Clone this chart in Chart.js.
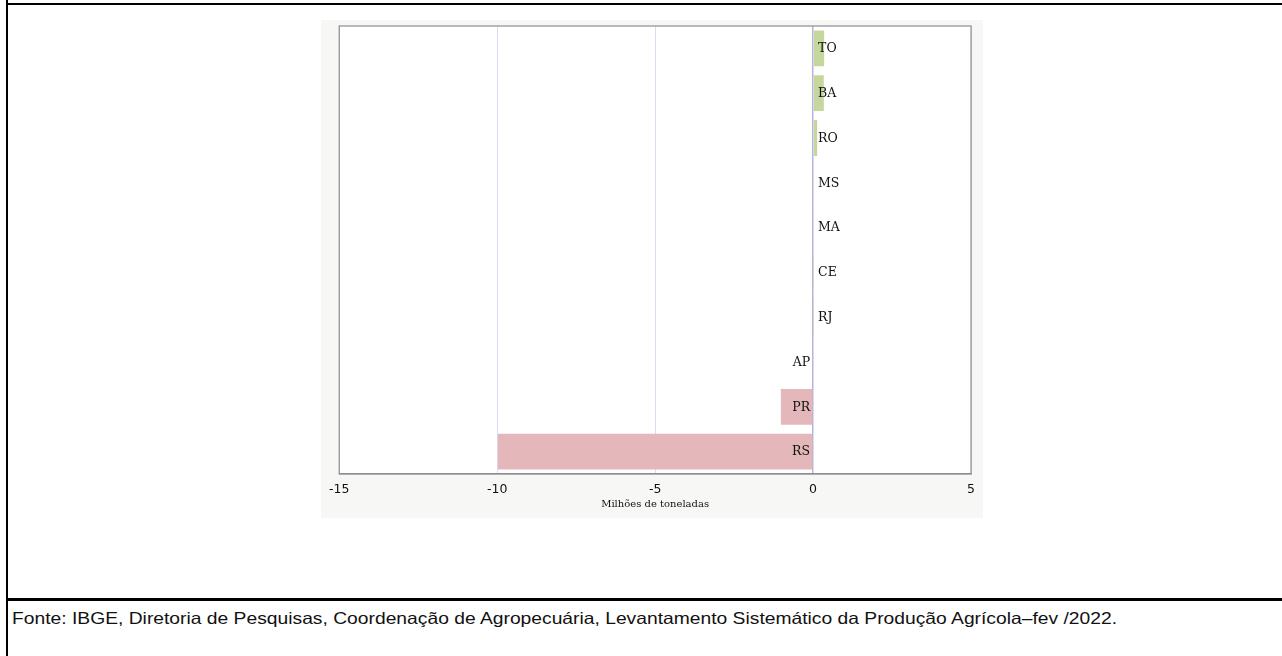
<!DOCTYPE html>
<html>
<head>
<meta charset="utf-8">
<script src="https://cdn.jsdelivr.net/npm/chart.js@4/dist/chart.umd.min.js"></script>
<style>
  html, body { margin: 0; padding: 0; background: #ffffff; }
  body { width: 1282px; height: 656px; position: relative; overflow: hidden; }
  .hline { position: absolute; background: #000; }
  .vline { position: absolute; background: #000; }
  #chartBox { position: absolute; left: 321px; top: 20px; width: 662px; height: 498px; background: #f7f7f5; }
  #fonte { position: absolute; left: 12px; top: 610px; font-family: "Liberation Sans", Arial, sans-serif; font-size: 16.5px; line-height: 17px; color: #111; white-space: nowrap; transform-origin: 0 0; }
</style>
</head>
<body>
<div class="vline" style="left:6px; top:0; width:2px; height:656px;"></div>
<div class="hline" style="left:6px; top:3px; width:1276px; height:2px;"></div>
<div class="hline" style="left:6px; top:598px; width:1276px; height:2.5px;"></div>
<div id="chartBox"><canvas id="c"></canvas></div>
<div id="fonte">Fonte: IBGE, Diretoria de Pesquisas, Coordenação de Agropecuária, Levantamento Sistemático da Produção Agrícola–fev /2022.</div>
<script>
// ---- data ----
const states = ["TO", "BA", "RO", "MS", "MA", "CE", "RJ", "AP", "PR", "RS"];
const variation = [0.35, 0.34, 0.13, 0.03, 0.02, 0.01, 0.01, -0.02, -1.02, -9.98];
const xTicks = [-15, -10, -5, 0, 5];
const axisTitle = "Milhões de toneladas";

const posColor = "#c6d79e";
const negColor = "#e4b8ba";

const plotFrame = {
  id: "plotFrame",
  beforeDraw(chart) {
    const a = chart.chartArea, ctx = chart.ctx;
    ctx.save();
    ctx.fillStyle = "#ffffff";
    ctx.fillRect(a.left, a.top, a.right - a.left, a.bottom - a.top);
    ctx.restore();
  },
  afterDraw(chart) {
    const a = chart.chartArea, ctx = chart.ctx;
    ctx.save();
    ctx.strokeStyle = "#8e8e8e";
    ctx.lineWidth = 1.2;
    ctx.strokeRect(a.left, a.top, a.right - a.left, a.bottom - a.top);
    ctx.restore();
  }
};

const stateLabels = {
  id: "stateLabels",
  afterDatasetsDraw(chart) {
    const ctx = chart.ctx;
    const meta = chart.getDatasetMeta(0);
    const x0 = chart.scales.x.getPixelForValue(0);
    ctx.save();
    ctx.font = "12.5px 'DejaVu Serif', serif";
    ctx.fillStyle = "#111";
    ctx.textBaseline = "middle";
    meta.data.forEach((bar, i) => {
      const v = chart.data.datasets[0].data[i];
      if (v >= 0) { ctx.textAlign = "left"; ctx.fillText(chart.data.labels[i], x0 + 5, bar.y + 0.5); }
      else { ctx.textAlign = "right"; ctx.fillText(chart.data.labels[i], x0 - 3, bar.y + 0.5); }
    });
    ctx.restore();
  }
};

new Chart(document.getElementById("c"), {
  type: "bar",
  data: {
    labels: states,
    datasets: [{
      data: variation,
      backgroundColor: variation.map(v => v >= 0 ? posColor : negColor),
      borderWidth: 0,
      barPercentage: 0.8,
      categoryPercentage: 1.0
    }]
  },
  options: {
    indexAxis: "y",
    responsive: true,
    maintainAspectRatio: false,
    animation: false,
    layout: { padding: { left: 18, right: 11, top: 6, bottom: 4 } },
    plugins: { legend: { display: false }, tooltip: { enabled: false } },
    scales: {
      y: { type: "category", display: false },
      x: {
        type: "linear",
        min: -15, max: 5,
        afterBuildTicks(scale) { scale.ticks = xTicks.map(v => ({ value: v })); },
        afterFit(scale) { scale.height = 40; },
        grid: {
          drawTicks: false,
          color: ctx => (ctx.tick && ctx.tick.value === 0) ? "#b7b3dc" : "#dddbf0",
          lineWidth: ctx => (ctx.tick && ctx.tick.value === 0) ? 1.5 : 1
        },
        border: { display: true, color: "#8e8e8e", width: 1.2 },
        ticks: {
          padding: 8,
          color: "#111",
          font: { family: "'DejaVu Sans', sans-serif", size: 12.5 },
          callback: v => String(v)
        },
        title: {
          display: true,
          text: axisTitle,
          color: "#111",
          font: { family: "'DejaVu Serif', serif", size: 10 },
          padding: { top: 0, bottom: 4 }
        }
      }
    }
  },
  plugins: [plotFrame, stateLabels]
});

// fit source line to reference width
(function () {
  const el = document.getElementById("fonte");
  const target = 1105;
  const w = el.getBoundingClientRect().width;
  el.style.transform = "scaleX(" + (target / w).toFixed(4) + ")";
})();
</script>
</body>
</html>
